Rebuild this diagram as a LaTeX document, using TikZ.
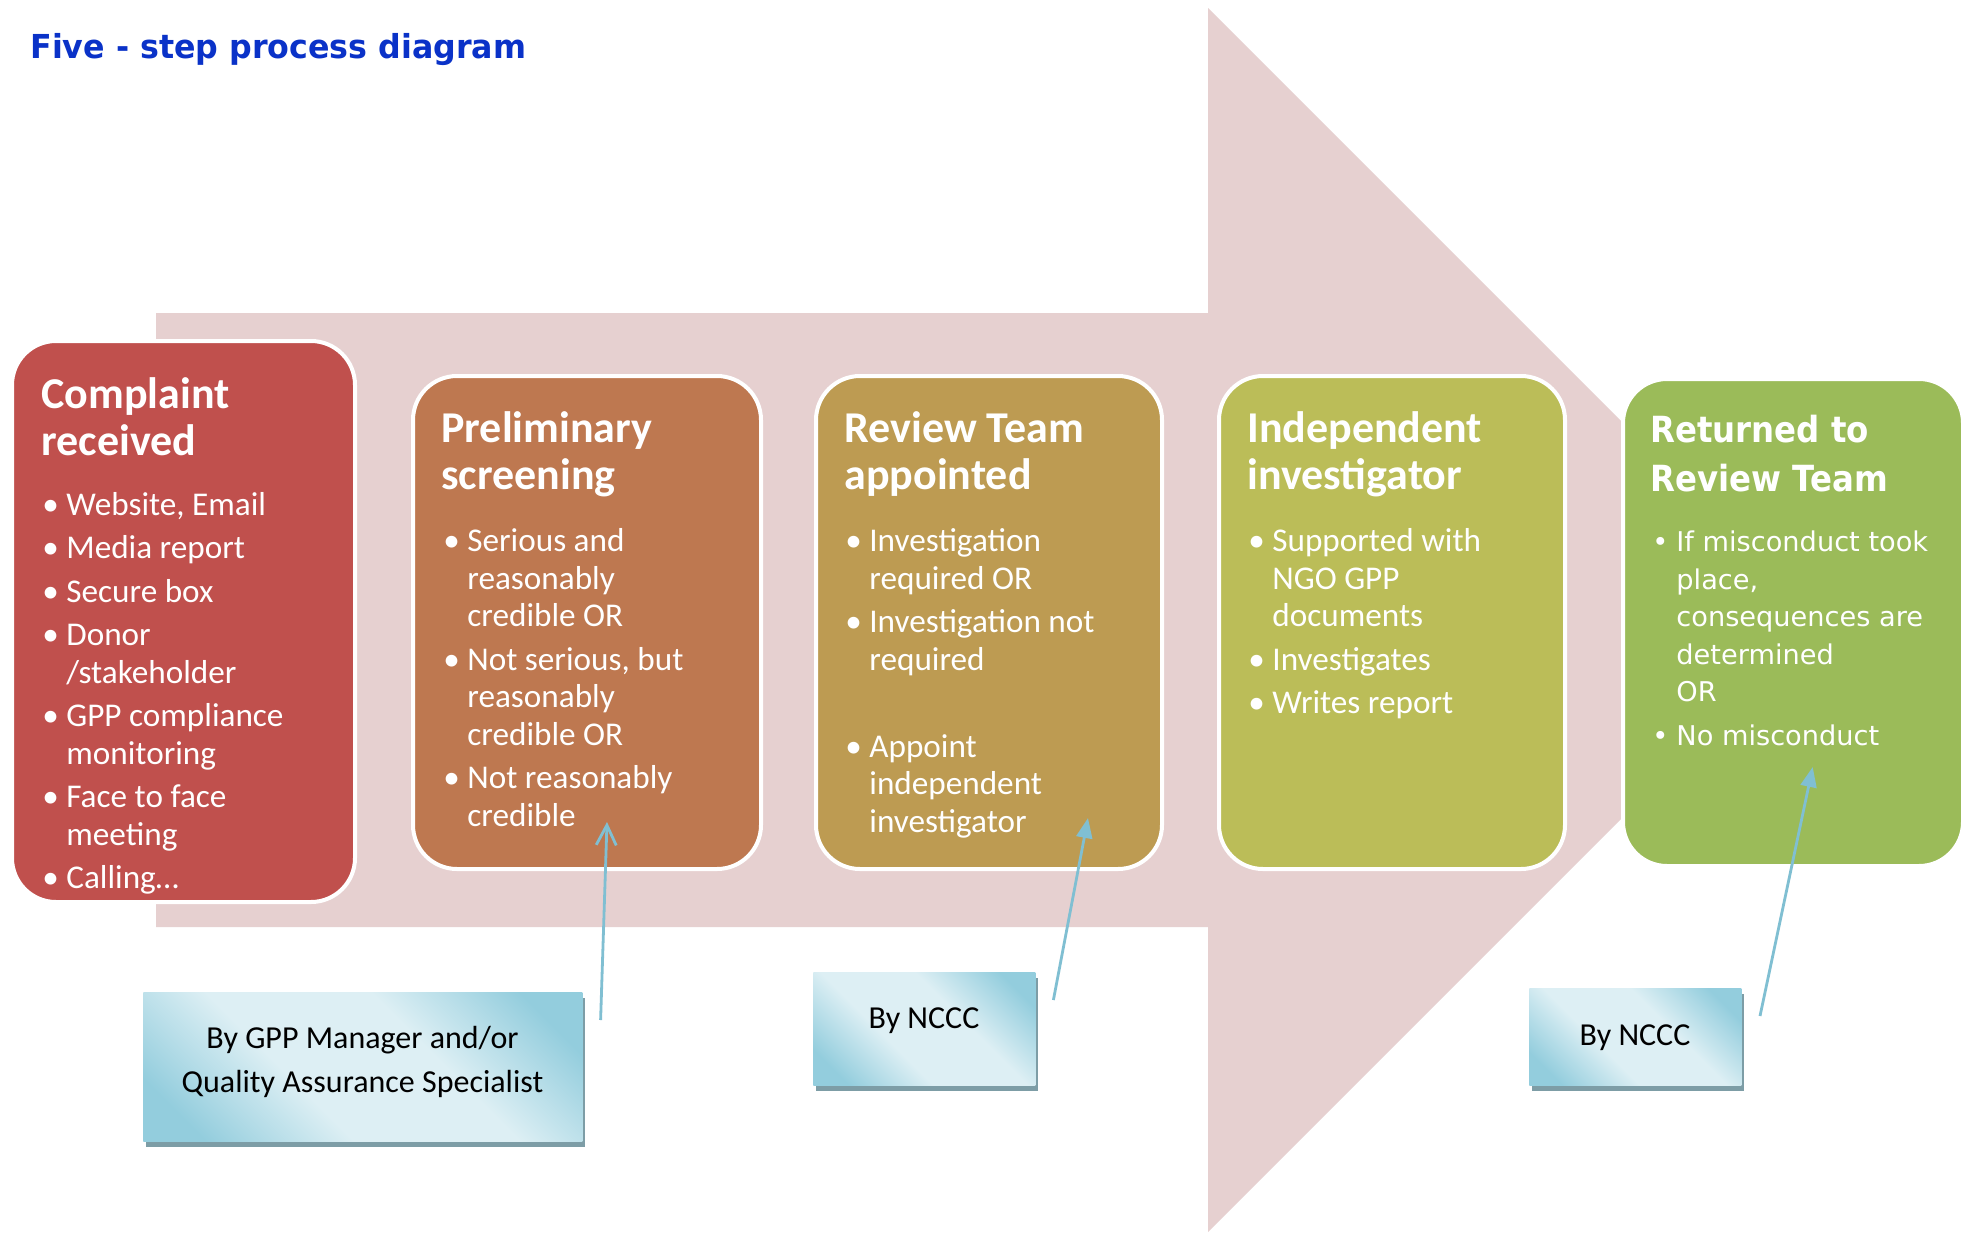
\documentclass[tikz,border=0pt]{standalone}
\usepackage{fontspec}
\usepackage{graphicx}
\newfontfamily\calib{Carlito}
\newfontfamily\verd{DejaVu Sans}
\usetikzlibrary{arrows.meta,shadows}
\definecolor{arrowpink}{HTML}{E6D0D0}
\definecolor{cA}{HTML}{C0504D}
\definecolor{cB}{HTML}{BE7850}
\definecolor{cC}{HTML}{BD9B52}
\definecolor{cD}{HTML}{BBBD58}
\definecolor{cE}{HTML}{9BBB59}
\definecolor{titleblue}{HTML}{0A32C8}
\definecolor{calldark}{HTML}{93CDDD}
\definecolor{calllight}{HTML}{DDEFF4}
\definecolor{shadowc}{HTML}{7D9DA6}
\definecolor{connc}{HTML}{80BFD2}
\pgfdeclarehorizontalshading{callsh}{100bp}{color(0bp)=(calldark); color(22bp)=(calldark); color(40bp)=(calllight); color(60bp)=(calllight); color(78bp)=(calldark); color(100bp)=(calldark)}
\newcommand\bitem[1]{\par\hangindent=12pt\hangafter=1\noindent\makebox[12pt][l]{\textbullet}#1}
\newcommand\bgap{\par\noindent\strut}
\tikzset{
  stepbox/.style={draw=white, line width=2pt, rounded corners=22pt, anchor=north west, inner sep=0pt},
  steptitle/.style={anchor=base west, inner sep=0pt, text=white, font=\calib\bfseries\fontsize{22}{23.5}\selectfont},
  steplist/.style={anchor=base west, inner sep=0pt, text=white, font=\calib\fontsize{16.6}{18.75}\selectfont},
  greentitle/.style={anchor=base west, inner sep=0pt, text=white, font=\verd\bfseries\fontsize{18}{24.25}\selectfont},
  greenlist/.style={anchor=base west, inner sep=0pt, text=white, font=\verd\fontsize{13.6}{18.75}\selectfont},
  callbox/.style={anchor=north west, inner sep=0pt, shade, shading=callsh, shading angle=45,
    general shadow={fill=shadowc, shadow xshift=1.5pt, shadow yshift=-3pt}},
  calltext/.style={anchor=base, inner sep=0pt, font=\calib\fontsize{16}{22.3}\selectfont},
  conn/.style={connc, line width=1.4pt},
  conntri/.style={conn, -{Triangle[length=10pt, width=8pt]}},
  connbarb/.style={conn, -{Straight Barb[length=10pt, width=10pt]}},
}
\begin{document}
\begin{tikzpicture}[x=0.5pt, y=-0.5pt]
\fill[white] (0,0) rectangle (1971,1232);
\useasboundingbox (0,0) rectangle (1971,1232);

% big background arrow
\fill[arrowpink] (156,313) -- (1208,313) -- (1208,8) -- (1820,620) -- (1208,1232) -- (1208,927) -- (156,927) -- cycle;

% title
\node[anchor=base west, inner sep=0pt, text=titleblue, font=\verd\bfseries\fontsize{16.5}{20}\selectfont] (title) at (30,58) {\scalebox{0.96}[1]{Five - step process diagram}};

% step boxes
\node[stepbox, fill=cA, minimum width=171.5pt, minimum height=280.5pt] (b1) at (10,339) {};
\node[stepbox, fill=cB, minimum width=174pt, minimum height=246.5pt] (b2) at (411,374) {};
\node[stepbox, fill=cC, minimum width=173pt, minimum height=246.5pt] (b3) at (814,374) {};
\node[stepbox, fill=cD, minimum width=173pt, minimum height=246.5pt] (b4) at (1217,374) {};
\node[stepbox, fill=cE, minimum width=170pt, minimum height=243.5pt] (b5) at (1621,377) {};

% box 1
\node[steptitle] (t1) at (41,408.8) {\parbox[t]{165pt}{Complaint\\received}};
\node[steplist] (l1) at (42,515.2) {\parbox[t]{165pt}{\setlength\parskip{3pt}%
\bitem{Website, Email}\bitem{Media report}\bitem{Secure box}\bitem{Donor\\/stakeholder}%
\bitem{GPP compliance\\monitoring}\bitem{Face to face\\meeting}\bitem{Calling\dots}}};

% box 2
\node[steptitle] (t2) at (441,442.5) {\parbox[t]{165pt}{Preliminary\\screening}};
\node[steplist] (l2) at (443,551.5) {\parbox[t]{165pt}{\setlength\parskip{3pt}%
\bitem{Serious and\\reasonably\\credible OR}\bitem{Not serious, but\\reasonably\\credible OR}\bitem{Not reasonably\\credible}}};

% box 3
\node[steptitle] (t3) at (844,442.5) {\parbox[t]{165pt}{Review Team\\appointed}};
\node[steplist] (l3) at (845,551.5) {\parbox[t]{165pt}{\setlength\parskip{3pt}%
\bitem{Investigation\\required OR}\bitem{Investigation not\\required}\bgap\bitem{Appoint\\independent\\investigator}}};

% box 4
\node[steptitle] (t4) at (1247,442.5) {\parbox[t]{165pt}{Independent\\investigator}};
\node[steplist] (l4) at (1248,551.5) {\parbox[t]{165pt}{\setlength\parskip{3pt}%
\bitem{Supported with\\NGO GPP\\documents}\bitem{Investigates}\bitem{Writes report}}};

% box 5
\node[greentitle] (t5) at (1650,442.5) {\parbox[t]{165pt}{\scalebox{0.9}[1]{Returned to}\\\scalebox{0.9}[1]{Review Team}}};
\node[greenlist] (l5) at (1652,551.5) {\parbox[t]{165pt}{\setlength\parskip{3pt}%
\bitem{If misconduct took\\place,\\consequences are\\determined\\OR}\bitem{No misconduct}}};

% callouts
\node[callbox, minimum width=219.5pt, minimum height=74.5pt] (c1) at (143,992) {};
\node[callbox, minimum width=111pt, minimum height=56.5pt] (c2) at (813,972) {};
\node[callbox, minimum width=106pt, minimum height=48.5pt] (c3) at (1529,988) {};
\node[calltext] (ct1) at (362.5,1048) {\parbox[t]{215pt}{\centering By GPP Manager and/or\\Quality Assurance Specialist}};
\node[calltext] (ct2) at (924,1028.3) {By NCCC};
\node[calltext] (ct3) at (1635,1045) {By NCCC};

% connectors
\coordinate (a1s) at (600.6,1020);
\coordinate (a1e) at (607,822);
\coordinate (a2s) at (1053.4,1000);
\coordinate (a2e) at (1088,818);
\coordinate (a3s) at (1760,1016);
\coordinate (a3e) at (1812.7,767);
\draw[connbarb] (a1s) -- (a1e);
\draw[conntri] (a2s) -- (a2e);
\draw[conntri] (a3s) -- (a3e);
\end{tikzpicture}
\end{document}
